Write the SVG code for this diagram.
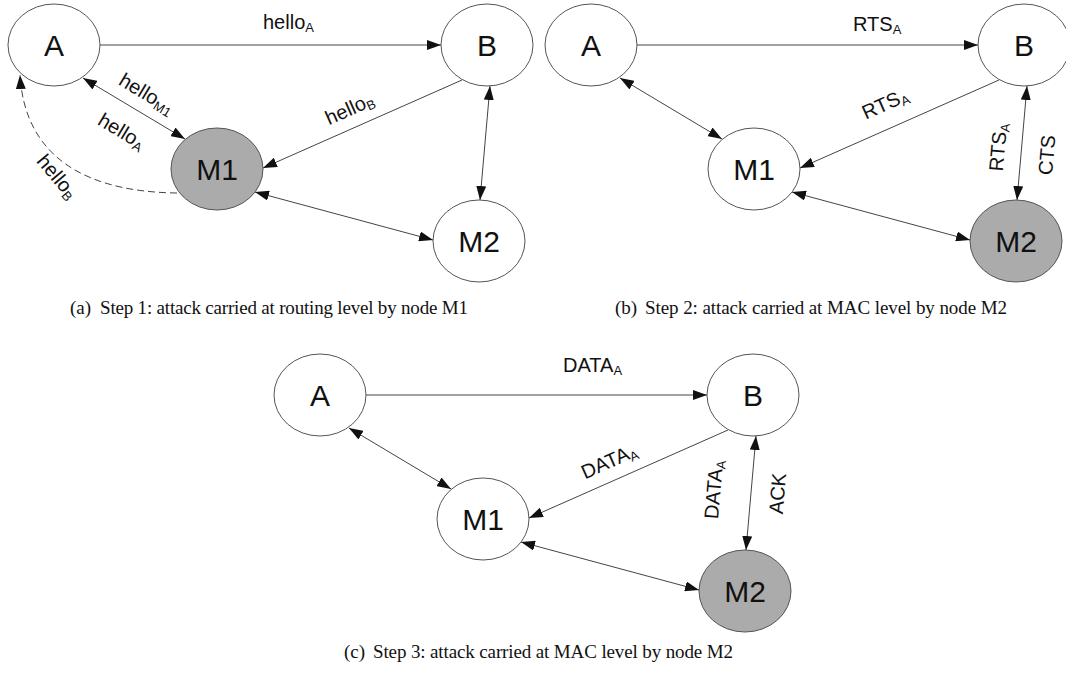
<svg xmlns="http://www.w3.org/2000/svg" width="1066" height="675" viewBox="0 0 1066 675">
  <defs>
    <marker id="arrow" viewBox="0 0 14 10" markerWidth="14" markerHeight="10" refX="14" refY="5" markerUnits="userSpaceOnUse" orient="auto-start-reverse">
      <path d="M0,0 L14,5 L0,10 z" fill="#111"/>
    </marker>
    <style>
      .node { fill: #fff; stroke: #555; stroke-width: 1; }
      .node.mal { fill: #ababab; }
      .nlabel { font-family: "Liberation Sans", Arial, sans-serif; font-size: 30px; fill: #111; text-anchor: middle; }
      .elabel { font-family: "Liberation Sans", Arial, sans-serif; font-size: 20px; fill: #111; }
      .mid { text-anchor: middle; }
      .sub { font-size: 13px; }
      .edge { fill: none; stroke: #444; stroke-width: 1; }
      .one { marker-end: url(#arrow); }
      .two { marker-start: url(#arrow); marker-end: url(#arrow); }
      .dash { stroke-dasharray: 7 4; }
      .cap { font-family: "Liberation Serif", "Times New Roman", serif; font-size: 19px; fill: #111; }
    </style>
  </defs>
  <rect width="1066" height="675" fill="#fff"/>

  <!-- (a) routing-level attack -->
  <g id="panel-a">
    <g id="a-connectors">
      <path class="edge one" d="M100,45 L441,45"/>
      <path class="edge two" d="M83,78 L185,139"/>
      <path class="edge one" d="M462,80 L263,168"/>
      <path class="edge two" d="M490,86 L480,200"/>
      <path class="edge two" d="M255,192 L433,240"/>
      <path class="edge one dash" d="M177,193 C90,192 25,160 20,75"/>
      <text class="elabel" x="263" y="29">hello<tspan class="sub" dy="3">A</tspan></text>
      <text class="elabel mid" transform="translate(147,93.5) rotate(31)" y="7">hello<tspan class="sub" dy="3">M1</tspan></text>
      <text class="elabel mid" transform="translate(122,131) rotate(31)" y="7">hello<tspan class="sub" dy="3">A</tspan></text>
      <text class="elabel mid" transform="translate(57.5,176.5) rotate(50)" y="7">hello<tspan class="sub" dy="3">B</tspan></text>
      <text class="elabel mid" transform="translate(349.5,108.5) rotate(-24)" y="7">hello<tspan class="sub" dy="3">B</tspan></text>
    </g>
    <g id="a-A"><ellipse class="node" cx="54" cy="45" rx="46" ry="41"/><text class="nlabel" x="54" y="56">A</text></g>
    <g id="a-B"><ellipse class="node" cx="487" cy="45" rx="46" ry="41"/><text class="nlabel" x="487" y="56">B</text></g>
    <g id="a-M1"><ellipse class="node mal" cx="217" cy="169" rx="46" ry="41"/><text class="nlabel" x="217" y="180">M1</text></g>
    <g id="a-M2"><ellipse class="node" cx="479" cy="241" rx="46" ry="41"/><text class="nlabel" x="479" y="252">M2</text></g>
  </g>
  <text class="cap" x="70" y="314">(a)</text>
  <text class="cap" x="100" y="314" textLength="368" lengthAdjust="spacing">Step 1: attack carried at routing level by node M1</text>

  <!-- (b) MAC-level attack, RTS/CTS -->
  <g id="panel-b" transform="translate(537,0)">
    <g id="b-connectors">
      <path class="edge one" d="M100,45 L441,45"/>
      <path class="edge two" d="M83,78 L185,139"/>
      <path class="edge one" d="M462,80 L263,168"/>
      <path class="edge two" d="M490,86 L480,200"/>
      <path class="edge two" d="M255,192 L433,240"/>
      <text class="elabel" x="316" y="31">RTS<tspan class="sub" dy="3">A</tspan></text>
      <text class="elabel mid" transform="translate(348,103.5) rotate(-24)" y="7">RTS<tspan class="sub" dy="3">A</tspan></text>
      <text class="elabel mid" transform="translate(461,147) rotate(-85)" y="7">RTS<tspan class="sub" dy="3">A</tspan></text>
      <text class="elabel mid" transform="translate(509.7,155) rotate(-85)" y="7">CTS</text>
    </g>
    <g id="b-A"><ellipse class="node" cx="54" cy="45" rx="46" ry="41"/><text class="nlabel" x="54" y="56">A</text></g>
    <g id="b-B"><ellipse class="node" cx="487" cy="45" rx="46" ry="41"/><text class="nlabel" x="487" y="56">B</text></g>
    <g id="b-M1"><ellipse class="node" cx="217" cy="169" rx="46" ry="41"/><text class="nlabel" x="217" y="180">M1</text></g>
    <g id="b-M2"><ellipse class="node mal" cx="479" cy="241" rx="46" ry="41"/><text class="nlabel" x="479" y="252">M2</text></g>
  </g>
  <text class="cap" x="615" y="314">(b)</text>
  <text class="cap" x="645" y="314" textLength="362" lengthAdjust="spacing">Step 2: attack carried at MAC level by node M2</text>

  <!-- (c) MAC-level attack, DATA/ACK -->
  <g id="panel-c" transform="translate(266,350)">
    <g id="c-connectors">
      <path class="edge one" d="M100,45 L441,45"/>
      <path class="edge two" d="M83,78 L185,139"/>
      <path class="edge one" d="M462,80 L263,168"/>
      <path class="edge two" d="M490,86 L480,200"/>
      <path class="edge two" d="M255,192 L433,240"/>
      <text class="elabel" x="297" y="22">DATA<tspan class="sub" dy="3">A</tspan></text>
      <text class="elabel mid" transform="translate(343,111) rotate(-24)" y="7">DATA<tspan class="sub" dy="3">A</tspan></text>
      <text class="elabel mid" transform="translate(447.5,139.5) rotate(-85)" y="7">DATA<tspan class="sub" dy="3">A</tspan></text>
      <text class="elabel mid" transform="translate(511.5,143.5) rotate(-85)" y="7">ACK</text>
    </g>
    <g id="c-A"><ellipse class="node" cx="54" cy="45" rx="46" ry="41"/><text class="nlabel" x="54" y="56">A</text></g>
    <g id="c-B"><ellipse class="node" cx="487" cy="45" rx="46" ry="41"/><text class="nlabel" x="487" y="56">B</text></g>
    <g id="c-M1"><ellipse class="node" cx="217" cy="169" rx="46" ry="41"/><text class="nlabel" x="217" y="180">M1</text></g>
    <g id="c-M2"><ellipse class="node mal" cx="479" cy="241" rx="46" ry="41"/><text class="nlabel" x="479" y="252">M2</text></g>
  </g>
  <text class="cap" x="344" y="658">(c)</text>
  <text class="cap" x="373" y="658" textLength="360" lengthAdjust="spacing">Step 3: attack carried at MAC level by node M2</text>
</svg>
